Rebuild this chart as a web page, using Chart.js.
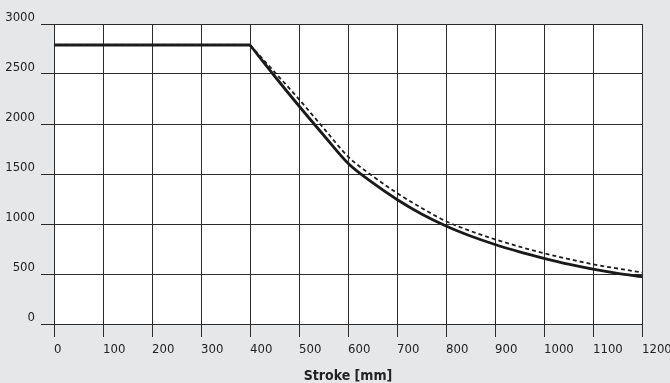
<!DOCTYPE html>
<html>
<head>
<meta charset="utf-8">
<script src="https://cdn.jsdelivr.net/npm/chart.js@4/dist/chart.umd.min.js"></script>
<style>
  html, body { margin: 0; padding: 0; background: #e6e7e8; }
  canvas { display: block; }
</style>
</head>
<body>
<canvas id="strokeChart" width="670" height="383"></canvas>
<script>
const strokeMm = [0, 400, 450, 500, 550, 600, 650, 700, 750, 800, 850, 900, 950, 1000, 1050, 1100, 1150, 1200];
const forceSolid = [2790, 2790, 2480, 2180, 1890, 1607, 1413, 1245, 1100, 980, 880, 795, 722, 657, 598, 548, 507, 473];
const forceDashed = [2790, 2790, 2520, 2247, 1960, 1675, 1480, 1310, 1160, 1028, 930, 847, 773, 707, 650, 597, 555, 515];
const xTicks = [0, 1200, 100];
const yTicks = [0, 3000, 500];

const font = '"DejaVu Sans Condensed", "DejaVu Sans", sans-serif';

const plotBackground = {
  id: 'plotBackground',
  beforeDraw(chart) {
    const { ctx, chartArea: a } = chart;
    ctx.save();
    ctx.fillStyle = '#ffffff';
    ctx.fillRect(a.left, a.top, a.right - a.left, a.bottom - a.top);
    ctx.restore();
  }
};

// flat part up to 400 mm, then the falling curve (kept apart so the corner stays sharp)
const knee = strokeMm.indexOf(400);
const toPoints = (ys, from, to) =>
  strokeMm.slice(from, to).map((x, i) => ({ x, y: ys[from + i] }));

const solidStyle = { borderColor: '#1a1a1a', borderWidth: 2.8, pointRadius: 0 };
const dashedStyle = { borderColor: '#1e1e1e', borderWidth: 1.8, borderDash: [4, 3], pointRadius: 0 };

new Chart(document.getElementById('strokeChart'), {
  type: 'line',
  data: {
    datasets: [
      { ...dashedStyle, data: toPoints(forceDashed, 0, knee + 1) },
      { ...dashedStyle, data: toPoints(forceDashed, knee), cubicInterpolationMode: 'monotone' },
      { ...solidStyle, data: toPoints(forceSolid, 0, knee + 1) },
      { ...solidStyle, data: toPoints(forceSolid, knee), cubicInterpolationMode: 'monotone' }
    ]
  },
  options: {
    responsive: false,
    animation: false,
    layout: { padding: { top: 24, right: 28, left: 0, bottom: 0 } },
    plugins: { legend: { display: false }, tooltip: { enabled: false } },
    scales: {
      x: {
        type: 'linear',
        min: xTicks[0],
        max: xTicks[1],
        afterFit: s => { s.height = 59; s.paddingLeft = 0; s.paddingRight = 0; },
        ticks: {
          stepSize: xTicks[2],
          align: 'start',
          padding: 5,
          color: '#222',
          callback: v => String(v),
          font: { family: font, size: 13 }
        },
        grid: { color: '#2b2b2b', lineWidth: 1, tickLength: 13 },
        border: { color: '#2b2b2b' },
        title: {
          display: true,
          text: 'Stroke [mm]',
          color: '#222',
          padding: { top: 0, bottom: 0 },
          font: { family: font, size: 14, weight: 'bold', lineHeight: 1.0 }
        }
      },
      y: {
        min: yTicks[0],
        max: yTicks[1],
        afterFit: s => { s.width = 54; s.paddingTop = 0; s.paddingBottom = 0; },
        ticks: {
          stepSize: yTicks[2],
          align: 'end',
          padding: 6,
          color: '#222',
          callback: v => String(v),
          font: { family: font, size: 13 }
        },
        grid: { color: '#2b2b2b', lineWidth: 1, tickLength: 13 },
        border: { color: '#2b2b2b' }
      }
    }
  },
  plugins: [plotBackground]
});
</script>
</body>
</html>
